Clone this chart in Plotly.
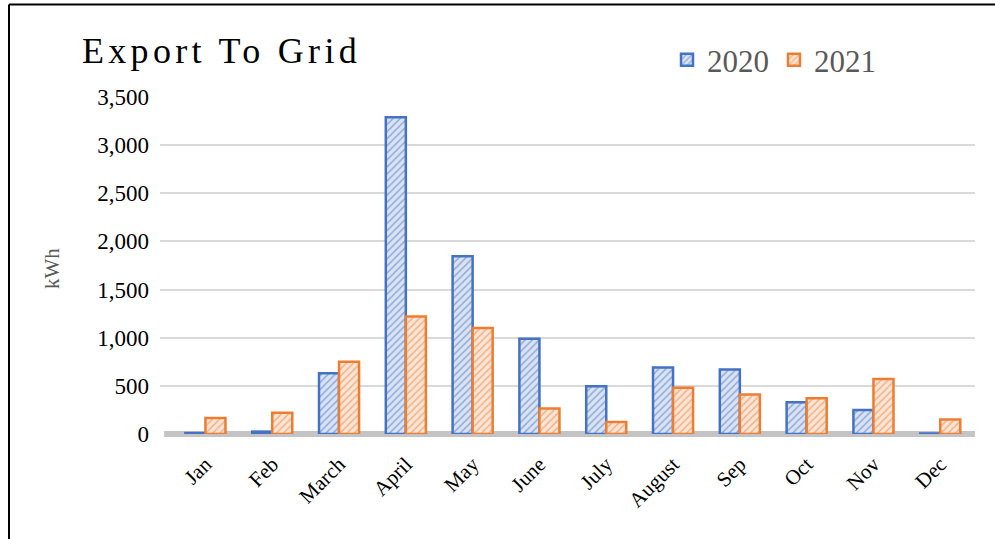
import plotly.graph_objects as go

months = ["Jan", "Feb", "March", "April", "May", "June", "July",
          "August", "Sep", "Oct", "Nov", "Dec"]
values_2020 = [10, 25, 630, 3290, 1845, 990, 495, 690, 670, 330, 250, 5]
values_2021 = [165, 220, 750, 1220, 1100, 265, 125, 480, 410, 370, 570, 150]
y_ticks = [0, 500, 1000, 1500, 2000, 2500, 3000, 3500]
y_tick_labels = ["0", "500", "1,000", "1,500", "2,000", "2,500", "3,000", "3,500"]

W, H = 995, 539
L, R, T, B = 160, 20, 97, 105
pw, ph = W - L - R, H - T - B

def px_x(px):
    return (px - L) / pw

def px_y(py):
    return (H - B - py) / ph

SERIF = "Liberation Serif, Times New Roman, serif"

fig = go.Figure()
fig.add_trace(go.Bar(
    name="2020", x=months, y=values_2020,
    marker=dict(color="#DAE3F3",
                line=dict(color="#4472C4", width=2.5),
                pattern=dict(shape="/", fgcolor="#4472C4", bgcolor="#DAE3F3",
                             size=5, solidity=0.3)),
))
fig.add_trace(go.Bar(
    name="2021", x=months, y=values_2021,
    marker=dict(color="#FBE5D6",
                line=dict(color="#ED7D31", width=2.5),
                pattern=dict(shape="/", fgcolor="#ED7D31", bgcolor="#FBE5D6",
                             size=5, solidity=0.3)),
))

# 3D floor band
fig.add_shape(type="rect", xref="paper", yref="paper", x0=0.005, x1=1.0,
              y0=px_y(437), y1=px_y(431), fillcolor="#C4C4C4",
              line=dict(width=0), layer="below")
# frame
fig.add_shape(type="line", xref="paper", yref="paper",
              x0=px_x(9), x1=px_x(1010), y0=px_y(4.5), y1=px_y(4.5),
              line=dict(color="black", width=2))
fig.add_shape(type="line", xref="paper", yref="paper",
              x0=px_x(9), x1=px_x(9), y0=px_y(4.5), y1=px_y(560),
              line=dict(color="black", width=2))

fig.add_annotation(
    text='<span style="letter-spacing:4.3px">Export To Grid</span>',
    xref="paper", yref="paper", x=px_x(80), y=px_y(51),
    xanchor="left", yanchor="middle", showarrow=False,
    font=dict(family=SERIF, size=36, color="black"))
fig.add_annotation(
    text="kWh", xref="paper", yref="paper", x=px_x(52), y=px_y(268),
    xanchor="center", yanchor="middle", textangle=-90, showarrow=False,
    font=dict(family=SERIF, size=21, color="#595959"))

fig.update_layout(
    width=W, height=H,
    margin=dict(l=L, r=R, t=T, b=B, pad=0),
    paper_bgcolor="white", plot_bgcolor="white",
    barmode="group", bargap=0.4, bargroupgap=0.0,
    showlegend=True,
    legend=dict(orientation="h", x=px_x(667), y=px_y(60), xanchor="left",
                yanchor="middle", font=dict(family=SERIF, size=31, color="#595959"),
                bgcolor="rgba(0,0,0,0)", itemwidth=30, traceorder="normal",
                tracegroupgap=0),
    xaxis=dict(tickangle=-45, tickfont=dict(family=SERIF, size=21, color="black"),
               showgrid=False, showline=False, ticks="", ticklabelstandoff=13,
               range=[-0.68, 11.52]),
    yaxis=dict(range=[0, 3500], tickvals=y_ticks, ticktext=y_tick_labels,
               tickfont=dict(family=SERIF, size=23, color="black"),
               showgrid=True, gridcolor="#D9D9D9", gridwidth=2,
               zeroline=False, showline=False, ticks="", ticklabelstandoff=10),
)

fig.write_html("out.html")
